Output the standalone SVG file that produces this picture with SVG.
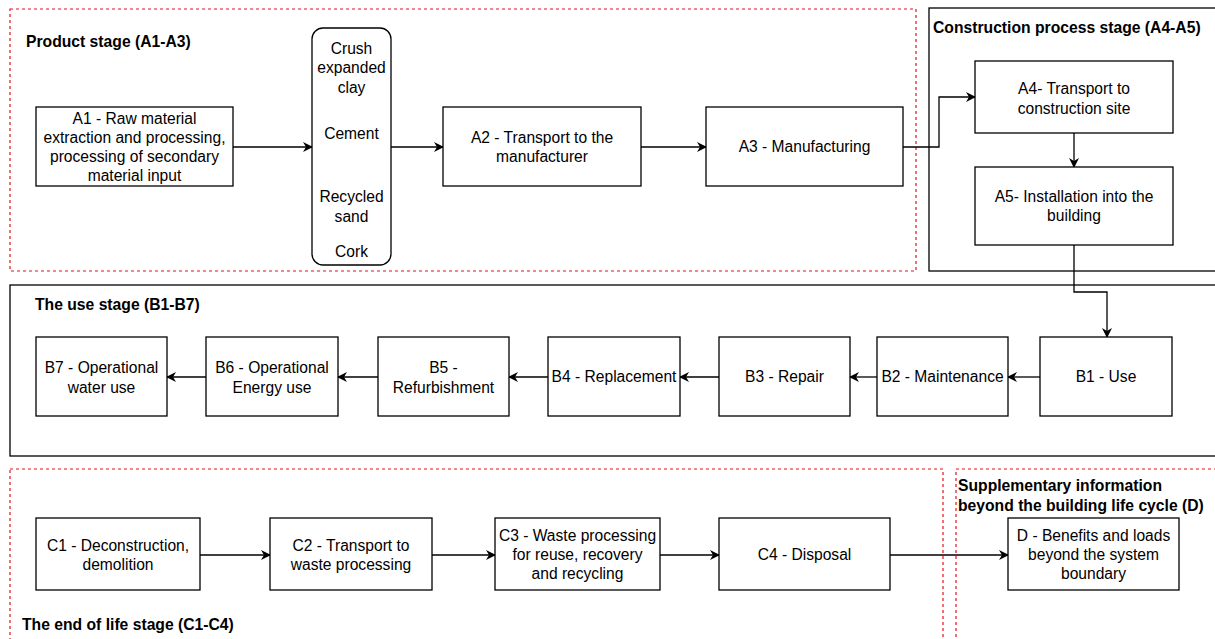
<svg xmlns="http://www.w3.org/2000/svg" width="1215" height="639" viewBox="0 0 1215 639">
  <defs>
    <style>
      .node { fill: #ffffff; stroke: #000000; stroke-width: 1.3; }
      .frame { fill: none; stroke: #000000; stroke-width: 1.3; }
      .dash { fill: none; stroke: #e0141e; stroke-width: 1.2; stroke-dasharray: 3 3; }
      .edge { fill: none; stroke: #000000; stroke-width: 1.3; marker-end: url(#arrow); }
      text { font-family: "Liberation Sans", Arial, Helvetica, sans-serif; font-size: 15.6px; fill: #000000; }
      .lbl { text-anchor: middle; }
      .title { font-weight: bold; font-size: 15.7px; }
    </style>
    <marker id="arrow" viewBox="0 0 10 10" refX="9" refY="5" markerWidth="10" markerHeight="10" markerUnits="userSpaceOnUse" orient="auto">
      <path d="M0,0 L10,5 L0,10 L3,5 z" fill="#000000"/>
    </marker>
  </defs>
  <rect width="1215" height="639" fill="#ffffff"/>

  <!-- stage frames -->
  <g id="frames">
    <rect class="dash" x="10" y="9" width="906" height="262"/>
    <rect class="frame" x="929" y="8" width="300" height="263"/>
    <rect class="frame" x="10" y="285" width="1220" height="171"/>
    <rect class="dash" x="10" y="469" width="933" height="200"/>
    <rect class="dash" x="956" y="469" width="280" height="200"/>
    <text class="title" x="26" y="47">Product stage (A1-A3)</text>
    <text class="title" x="933" y="33">Construction process stage (A4-A5)</text>
    <text class="title" x="35" y="310">The use stage (B1-B7)</text>
    <text class="title" x="22" y="630">The end of life stage (C1-C4)</text>
    <text class="title" x="958" y="491">Supplementary information</text>
    <text class="title" x="958" y="511">beyond the building life cycle (D)</text>
  </g>

  <!-- connectors -->
  <g id="connectors">
    <path class="edge" d="M233,147 H312"/>
    <path class="edge" d="M391,147 H443"/>
    <path class="edge" d="M641,147 H706"/>
    <path class="edge" d="M903,147 H939 V97 H975"/>
    <path class="edge" d="M1074,133 V167"/>
    <path class="edge" d="M1074,245 V292 H1107 V337"/>
    <path class="edge" d="M1040,377 H1008"/>
    <path class="edge" d="M877,377 H850"/>
    <path class="edge" d="M719,377 H680"/>
    <path class="edge" d="M548,377 H509"/>
    <path class="edge" d="M378,377 H338"/>
    <path class="edge" d="M206,377 H167"/>
    <path class="edge" d="M200,555 H270"/>
    <path class="edge" d="M432,555 H495"/>
    <path class="edge" d="M660,555 H719"/>
    <path class="edge" d="M890,555 H1008"/>
  </g>

  <g id="A1">
    <rect class="node" x="36" y="107" width="197" height="79"/>
    <text class="lbl" x="134.5" y="124">A1 - Raw material</text>
    <text class="lbl" x="134.5" y="143">extraction and processing,</text>
    <text class="lbl" x="134.5" y="162">processing of secondary</text>
    <text class="lbl" x="134.5" y="181">material input</text>
  </g>
  <g id="materials">
    <rect class="node" x="312" y="28" width="79" height="237" rx="11" ry="11"/>
    <text class="lbl" x="351.5" y="54">Crush</text>
    <text class="lbl" x="351.5" y="73">expanded</text>
    <text class="lbl" x="351.5" y="93">clay</text>
    <text class="lbl" x="351.5" y="139">Cement</text>
    <text class="lbl" x="351.5" y="202">Recycled</text>
    <text class="lbl" x="351.5" y="222">sand</text>
    <text class="lbl" x="351.5" y="257">Cork</text>
  </g>
  <g id="A2">
    <rect class="node" x="443" y="107" width="198" height="79"/>
    <text class="lbl" x="542" y="143">A2 - Transport to the</text>
    <text class="lbl" x="542" y="162">manufacturer</text>
  </g>
  <g id="A3">
    <rect class="node" x="706" y="107" width="197" height="79"/>
    <text class="lbl" x="804.5" y="152">A3 - Manufacturing</text>
  </g>
  <g id="A4">
    <rect class="node" x="975" y="61" width="198" height="72"/>
    <text class="lbl" x="1074" y="94">A4- Transport to</text>
    <text class="lbl" x="1074" y="114">construction site</text>
  </g>
  <g id="A5">
    <rect class="node" x="975" y="167" width="198" height="78"/>
    <text class="lbl" x="1074" y="202">A5- Installation into the</text>
    <text class="lbl" x="1074" y="221">building</text>
  </g>

  <g id="B1">
    <rect class="node" x="1040" y="337" width="132" height="79"/>
    <text class="lbl" x="1106" y="382">B1 - Use</text>
  </g>
  <g id="B2">
    <rect class="node" x="877" y="337" width="131" height="79"/>
    <text class="lbl" x="942.5" y="382">B2 - Maintenance</text>
  </g>
  <g id="B3">
    <rect class="node" x="719" y="337" width="131" height="79"/>
    <text class="lbl" x="784.5" y="382">B3 - Repair</text>
  </g>
  <g id="B4">
    <rect class="node" x="548" y="337" width="132" height="79"/>
    <text class="lbl" x="614" y="382">B4 - Replacement</text>
  </g>
  <g id="B5">
    <rect class="node" x="378" y="337" width="131" height="79"/>
    <text class="lbl" x="443.5" y="373">B5 -</text>
    <text class="lbl" x="443.5" y="393">Refurbishment</text>
  </g>
  <g id="B6">
    <rect class="node" x="206" y="337" width="132" height="79"/>
    <text class="lbl" x="272" y="373">B6 - Operational</text>
    <text class="lbl" x="272" y="393">Energy use</text>
  </g>
  <g id="B7">
    <rect class="node" x="36" y="337" width="131" height="79"/>
    <text class="lbl" x="101.5" y="373">B7 - Operational</text>
    <text class="lbl" x="101.5" y="393">water use</text>
  </g>

  <g id="C1">
    <rect class="node" x="36" y="518" width="164" height="72"/>
    <text class="lbl" x="118" y="551">C1 - Deconstruction,</text>
    <text class="lbl" x="118" y="570">demolition</text>
  </g>
  <g id="C2">
    <rect class="node" x="270" y="518" width="162" height="72"/>
    <text class="lbl" x="351" y="551">C2 - Transport to</text>
    <text class="lbl" x="351" y="570">waste processing</text>
  </g>
  <g id="C3">
    <rect class="node" x="495" y="518" width="165" height="72"/>
    <text class="lbl" x="577.5" y="541">C3 - Waste processing</text>
    <text class="lbl" x="577.5" y="560">for reuse, recovery</text>
    <text class="lbl" x="577.5" y="579">and recycling</text>
  </g>
  <g id="C4">
    <rect class="node" x="719" y="518" width="171" height="72"/>
    <text class="lbl" x="804.5" y="560">C4 - Disposal</text>
  </g>
  <g id="D">
    <rect class="node" x="1008" y="518" width="171" height="72"/>
    <text class="lbl" x="1093.5" y="541">D - Benefits and loads</text>
    <text class="lbl" x="1093.5" y="560">beyond the system</text>
    <text class="lbl" x="1093.5" y="579">boundary</text>
  </g>
</svg>
